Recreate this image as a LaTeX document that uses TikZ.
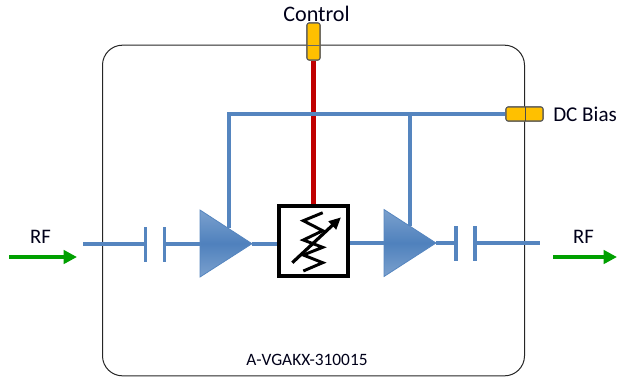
\documentclass[tikz,border=0pt]{standalone}
\usepackage{fontspec}
\setmainfont{Carlito}
\usetikzlibrary{arrows.meta}
\definecolor{wireblue}{HTML}{5585BF}
\definecolor{ampblue}{HTML}{4F81BD}
\definecolor{ctrlred}{HTML}{C00000}
\definecolor{pinyellow}{HTML}{FFC000}
\definecolor{rfgreen}{HTML}{00A000}
\tikzset{
  wire/.style={draw=wireblue,line width=3pt},
  plate/.style={draw=wireblue,line width=2.6pt},
  ctrlwire/.style={draw=ctrlred,line width=3.2pt},
  pin/.style={draw=black!65,line width=0.8pt,fill=pinyellow,rounded corners=1.6pt,inner sep=0pt},
  rfarrow/.style={draw=rfgreen,line width=3pt,-{Triangle[length=10pt,width=10pt]}},
  amp/.style={draw=wireblue,line width=0.6pt,top color=ampblue!75!white,bottom color=ampblue!75!white,middle color=ampblue},
  label/.style={inner sep=0pt,text=black!90!blue},
  vrbox/.style={draw=black,line width=3.2pt,fill=white,inner sep=0pt,minimum width=51.5pt,minimum height=52.5pt}
}
\begin{document}
\begin{tikzpicture}[x=0.75pt,y=-0.75pt]
\useasboundingbox (0,0) rectangle (617,376);
% enclosure
\node[draw=black!85,line width=0.75pt,rounded corners=15pt,inner sep=0pt,minimum width=316.5pt,minimum height=248pt] (case) at (313.5,210.5) {};
% anchor points
\coordinate (inL) at (83,243.7);
\coordinate (c1a) at (145.5,243.7);
\coordinate (c1b) at (164.5,243.7);
\coordinate (a1in) at (200,243.7);
\coordinate (a1out) at (252,243.7);
\coordinate (a2in) at (384,243);
\coordinate (a2out) at (436,243);
\coordinate (c2a) at (456,243);
\coordinate (c2b) at (475,243);
\coordinate (outR) at (540,243);
\coordinate (busL) at (229,114);
\coordinate (busM) at (410,114);
\coordinate (a1bias) at (229,228);
\coordinate (a2bias) at (410,226);
% pins
\node[pin,minimum width=9.75pt,minimum height=27.75pt] (ctrlpin) at (313.5,41.5) {};
\node[pin,minimum width=27.75pt,minimum height=10.5pt] (dcpin) at (524.5,114) {};
% variable attenuator
\node[vrbox] (vr) at (313.5,241) {};
% wires
\draw[ctrlwire] (ctrlpin.south) -- (vr.north);
\draw[wire] (dcpin.west) -- (busL) -- (a1bias);
\draw[wire] (busM) -- (a2bias);
\draw[wire] (inL) -- (c1a);
\draw[wire] (c1b) -- (a1in);
\draw[wire] (a1out) -- (vr.west |- a1out);
\draw[wire] (vr.east |- a2in) -- (a2in);
\draw[wire] (a2out) -- (c2a);
\draw[wire] (c2b) -- (outR);
\node[pin,minimum width=9.75pt,minimum height=27.75pt] at (ctrlpin) {};
\node[pin,minimum width=27.75pt,minimum height=10.5pt] at (dcpin) {};
\draw[draw=black!70,line width=0.6pt] (525,107) -- (525,121);
\draw[draw=black!60,line width=0.6pt] (307,45) -- (320,45);
% capacitors
\draw[plate] (145.5,227) -- (145.5,262);
\draw[plate] (164.5,227) -- (164.5,262);
\draw[plate] (456,226) -- (456,261);
\draw[plate] (475,226) -- (475,261);
% amplifiers
\path[amp] (200,210) -- (252,243.7) -- (200,277) -- cycle;
\path[amp] (384,209.5) -- (436,243) -- (384,276.5) -- cycle;
% attenuator symbol
\draw[black,line width=2.2pt,line join=miter] (322.7,212.7) -- (303.3,220.7) -- (322.7,230.7) -- (303.3,240) -- (322.7,247.3) -- (303.3,255) -- (322.7,262.7) -- (303.3,271);
\draw[black,line width=2.4pt,-{Triangle[length=9pt,width=8pt]}] (292.3,262.7) -- (341,217.3);
% green arrows
\draw[rfarrow] (9,257) -- (77,257);
\draw[rfarrow] (553,257) -- (617,257);
% labels
\node[label,font=\fontsize{16.6pt}{18pt}\selectfont] (lctrl) at (316.5,14) {Control};
\node[label,font=\fontsize{15.8pt}{18pt}\selectfont,anchor=west] (ldc) at (553,114) {DC Bias};
\node[label,font=\fontsize{15.5pt}{18pt}\selectfont] (lrf1) at (40.5,237) {RF};
\node[label,font=\fontsize{15.5pt}{18pt}\selectfont] (lrf2) at (583.5,237) {RF};
\node[label,font=\fontsize{13pt}{15pt}\selectfont] (lpart) at (307,360) {A-VGAKX-310015};
\end{tikzpicture}
\end{document}
